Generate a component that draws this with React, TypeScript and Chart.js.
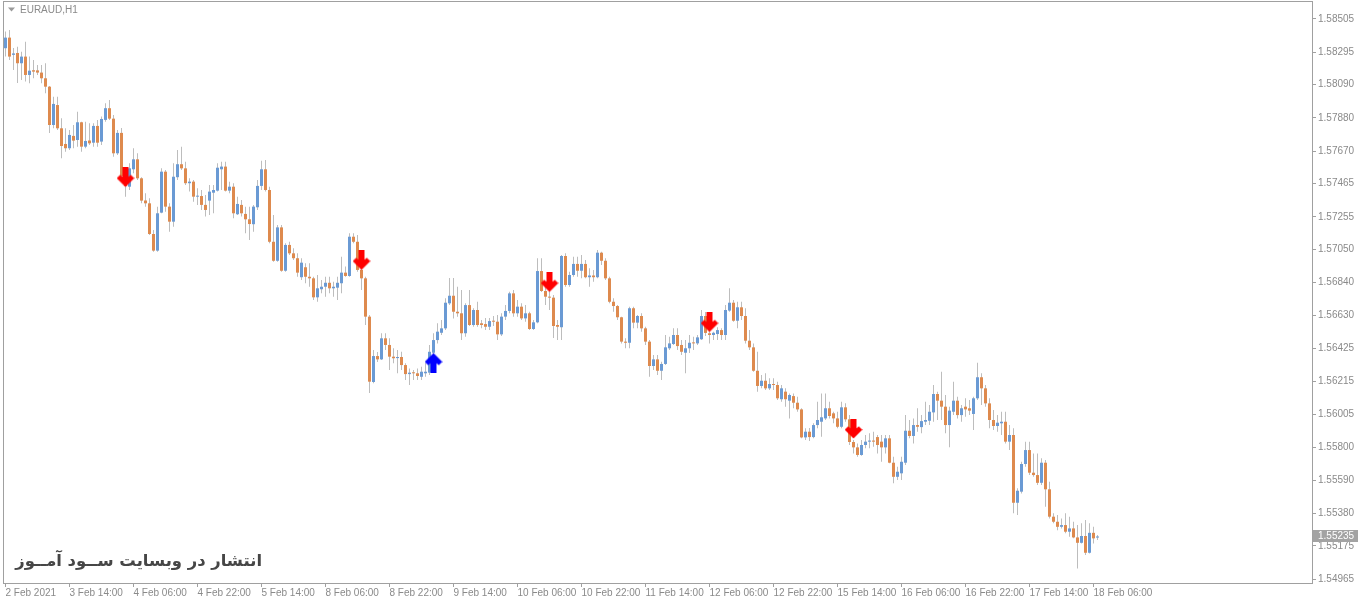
import React, { useEffect, useRef } from "react";
import { Chart, registerables } from "chart.js";

Chart.register(...registerables);

const symbolTitle = "EURAUD,H1";
const watermarkText = "انتشار در وبسایت ســود آمــوز";

const timeLabels = [
  "2 Feb 2021", "3 Feb 14:00", "4 Feb 06:00", "4 Feb 22:00", "5 Feb 14:00", "8 Feb 06:00",
  "8 Feb 22:00", "9 Feb 14:00", "10 Feb 06:00", "10 Feb 22:00", "11 Feb 14:00", "12 Feb 06:00",
  "12 Feb 22:00", "15 Feb 14:00", "16 Feb 06:00", "16 Feb 22:00", "17 Feb 14:00", "18 Feb 06:00",
];
const timeLabelBars = [0, 16, 32, 48, 64, 80, 96, 112, 128, 144, 160, 176, 192, 208, 224, 240, 256, 272];

const priceTicks = [
  1.58505, 1.58295, 1.5809, 1.5788, 1.5767, 1.57465, 1.57255, 1.5705, 1.5684,
  1.5663, 1.56425, 1.56215, 1.56005, 1.558, 1.5559, 1.5538, 1.55175, 1.54965,
];

const opens = [
  1.58320, 1.58387, 1.58278, 1.58290, 1.58225, 1.58267, 1.58151, 1.58181, 1.58180, 1.58166,
  1.58130, 1.58077, 1.57835, 1.57961, 1.57814, 1.57715, 1.57688, 1.57766, 1.57740, 1.57852,
  1.57698, 1.57737, 1.57723, 1.57829, 1.57730, 1.57867, 1.57941, 1.57875, 1.57656, 1.57785,
  1.57513, 1.57445, 1.57555, 1.57618, 1.57498, 1.57358, 1.57340, 1.57146, 1.57041, 1.57281,
  1.57540, 1.57319, 1.57224, 1.57505, 1.57587, 1.57561, 1.57467, 1.57477, 1.57382, 1.57386,
  1.57330, 1.57357, 1.57407, 1.57420, 1.57555, 1.57572, 1.57420, 1.57445, 1.57271, 1.57330,
  1.57273, 1.57239, 1.57208, 1.57315, 1.57450, 1.57555, 1.57424, 1.57097, 1.56977, 1.57188,
  1.56914, 1.57077, 1.57024, 1.56993, 1.56873, 1.56936, 1.56876, 1.56866, 1.56746, 1.56797,
  1.56813, 1.56838, 1.56803, 1.56807, 1.56835, 1.56902, 1.56881, 1.57129, 1.57097, 1.56919,
  1.56866, 1.56624, 1.56211, 1.56375, 1.56354, 1.56487, 1.56445, 1.56371, 1.56362, 1.56369,
  1.56318, 1.56261, 1.56270, 1.56266, 1.56244, 1.56266, 1.56270, 1.56396, 1.56476, 1.56522,
  1.56550, 1.56708, 1.56756, 1.56655, 1.56645, 1.56519, 1.56697, 1.56571, 1.56666, 1.56582,
  1.56577, 1.56560, 1.56596, 1.56592, 1.56512, 1.56624, 1.56660, 1.56771, 1.56645, 1.56687,
  1.56613, 1.56645, 1.56546, 1.56588, 1.56912, 1.56786, 1.56750, 1.56744, 1.56571, 1.56557,
  1.57007, 1.56824, 1.56887, 1.56957, 1.56914, 1.56957, 1.56873, 1.56884, 1.56873, 1.57028,
  1.56977, 1.56866, 1.56718, 1.56691, 1.56620, 1.56466, 1.56459, 1.56677, 1.56586, 1.56628,
  1.56550, 1.56466, 1.56312, 1.56354, 1.56282, 1.56325, 1.56424, 1.56451, 1.56508, 1.56445,
  1.56396, 1.56424, 1.56459, 1.56455, 1.56481, 1.56628, 1.56519, 1.56508, 1.56514, 1.56539,
  1.56508, 1.56662, 1.56712, 1.56598, 1.56683, 1.56628, 1.56472, 1.56430, 1.56282, 1.56186,
  1.56219, 1.56171, 1.56198, 1.56192, 1.56102, 1.56150, 1.56093, 1.56122, 1.56080, 1.56038,
  1.55861, 1.55897, 1.55863, 1.55939, 1.55960, 1.55981, 1.56045, 1.56013, 1.55981, 1.55928,
  1.56051, 1.55975, 1.55832, 1.55798, 1.55750, 1.55813, 1.55834, 1.55841, 1.55863, 1.55834,
  1.55798, 1.55855, 1.55701, 1.55612, 1.55634, 1.55701, 1.55903, 1.55870, 1.55939, 1.55926,
  1.55960, 1.55966, 1.56019, 1.56135, 1.56093, 1.56055, 1.55939, 1.56023, 1.56093, 1.56002,
  1.56055, 1.56045, 1.56009, 1.56108, 1.56241, 1.56171, 1.56076, 1.55971, 1.55933, 1.55950,
  1.55960, 1.55834, 1.55876, 1.55448, 1.55518, 1.55693, 1.55781, 1.55638, 1.55623, 1.55574,
  1.55701, 1.55533, 1.55360, 1.55328, 1.55296, 1.55307, 1.55265, 1.55286, 1.55229, 1.55195,
  1.55238, 1.55132, 1.55258, 1.55228,
];

const highs = [
  1.58425, 1.58435, 1.58322, 1.58330, 1.58298, 1.58361, 1.58267, 1.58246, 1.58214, 1.58214,
  1.58225, 1.58082, 1.58014, 1.58014, 1.57877, 1.57814, 1.57803, 1.57835, 1.57919, 1.57856,
  1.57856, 1.57846, 1.57846, 1.57867, 1.57888, 1.57972, 1.57993, 1.57898, 1.57803, 1.57816,
  1.57538, 1.57593, 1.57688, 1.57656, 1.57505, 1.57403, 1.57372, 1.57172, 1.57319, 1.57561,
  1.57551, 1.57340, 1.57593, 1.57677, 1.57698, 1.57603, 1.57498, 1.57488, 1.57435, 1.57424,
  1.57393, 1.57456, 1.57456, 1.57593, 1.57603, 1.57603, 1.57477, 1.57467, 1.57382, 1.57361,
  1.57319, 1.57319, 1.57330, 1.57488, 1.57609, 1.57614, 1.57445, 1.57266, 1.57203, 1.57203,
  1.57087, 1.57097, 1.57056, 1.57024, 1.56993, 1.56961, 1.56961, 1.56876, 1.56887, 1.56856,
  1.56876, 1.56876, 1.56845, 1.56876, 1.57003, 1.56940, 1.57151, 1.57151, 1.57140, 1.56929,
  1.56876, 1.56634, 1.56413, 1.56400, 1.56519, 1.56519, 1.56487, 1.56424, 1.56413, 1.56402,
  1.56329, 1.56297, 1.56287, 1.56297, 1.56308, 1.56329, 1.56445, 1.56519, 1.56582, 1.56603,
  1.56740, 1.56868, 1.56868, 1.56813, 1.56792, 1.56708, 1.56792, 1.56677, 1.56718, 1.56603,
  1.56615, 1.56615, 1.56628, 1.56634, 1.56645, 1.56697, 1.56782, 1.56792, 1.56729, 1.56708,
  1.56697, 1.56655, 1.56603, 1.56993, 1.56993, 1.56837, 1.56792, 1.56761, 1.56603, 1.57014,
  1.57024, 1.56908, 1.57003, 1.57003, 1.57014, 1.56982, 1.56929, 1.56919, 1.57045, 1.57034,
  1.56993, 1.56876, 1.56740, 1.56697, 1.56624, 1.56487, 1.56687, 1.56687, 1.56634, 1.56645,
  1.56560, 1.56476, 1.56382, 1.56382, 1.56339, 1.56508, 1.56497, 1.56550, 1.56550, 1.56476,
  1.56476, 1.56508, 1.56497, 1.56508, 1.56666, 1.56653, 1.56539, 1.56529, 1.56557, 1.56550,
  1.56697, 1.56803, 1.56729, 1.56718, 1.56718, 1.56677, 1.56539, 1.56455, 1.56402, 1.56255,
  1.56266, 1.56234, 1.56234, 1.56213, 1.56192, 1.56171, 1.56139, 1.56139, 1.56118, 1.56045,
  1.55918, 1.55920, 1.55950, 1.56086, 1.56139, 1.56139, 1.56086, 1.56023, 1.56023, 1.56086,
  1.56076, 1.56002, 1.55844, 1.55823, 1.55844, 1.55876, 1.55887, 1.55897, 1.55876, 1.55876,
  1.55876, 1.55876, 1.55739, 1.55676, 1.55739, 1.56002, 1.55971, 1.55981, 1.56045, 1.56002,
  1.56086, 1.56066, 1.56192, 1.56150, 1.56276, 1.56129, 1.56055, 1.56213, 1.56118, 1.56066,
  1.56108, 1.56097, 1.56118, 1.56333, 1.56266, 1.56192, 1.56108, 1.56034, 1.56002, 1.56023,
  1.56023, 1.55939, 1.55918, 1.55539, 1.55707, 1.55834, 1.55834, 1.55760, 1.55760, 1.55729,
  1.55718, 1.55581, 1.55381, 1.55370, 1.55349, 1.55381, 1.55360, 1.55328, 1.55307, 1.55318,
  1.55339, 1.55318, 1.55296, 1.55244,
];

const lows = [
  1.58267, 1.58246, 1.58183, 1.58100, 1.58119, 1.58109, 1.58099, 1.58130, 1.58151, 1.58099,
  1.58035, 1.57785, 1.57814, 1.57803, 1.57625, 1.57666, 1.57677, 1.57688, 1.57698, 1.57666,
  1.57688, 1.57709, 1.57698, 1.57698, 1.57709, 1.57856, 1.57867, 1.57635, 1.57646, 1.57488,
  1.57382, 1.57424, 1.57530, 1.57488, 1.57340, 1.57319, 1.57140, 1.57034, 1.57034, 1.57277,
  1.57287, 1.57161, 1.57192, 1.57488, 1.57551, 1.57456, 1.57414, 1.57350, 1.57330, 1.57298,
  1.57256, 1.57266, 1.57277, 1.57414, 1.57424, 1.57414, 1.57403, 1.57245, 1.57266, 1.57256,
  1.57151, 1.57108, 1.57161, 1.57298, 1.57424, 1.57414, 1.57087, 1.56971, 1.56971, 1.56908,
  1.56908, 1.57014, 1.56982, 1.56876, 1.56856, 1.56835, 1.56813, 1.56729, 1.56718, 1.56771,
  1.56750, 1.56771, 1.56750, 1.56729, 1.56771, 1.56876, 1.56876, 1.57087, 1.56908, 1.56792,
  1.56571, 1.56141, 1.56203, 1.56337, 1.56350, 1.56413, 1.56287, 1.56329, 1.56266, 1.56287,
  1.56223, 1.56192, 1.56223, 1.56223, 1.56223, 1.56244, 1.56255, 1.56329, 1.56455, 1.56508,
  1.56539, 1.56697, 1.56613, 1.56624, 1.56476, 1.56497, 1.56565, 1.56560, 1.56560, 1.56550,
  1.56539, 1.56539, 1.56565, 1.56476, 1.56502, 1.56603, 1.56645, 1.56624, 1.56624, 1.56603,
  1.56592, 1.56539, 1.56539, 1.56582, 1.56780, 1.56697, 1.56666, 1.56489, 1.56476, 1.56476,
  1.56813, 1.56813, 1.56876, 1.56876, 1.56866, 1.56866, 1.56813, 1.56845, 1.56866, 1.56950,
  1.56856, 1.56708, 1.56655, 1.56603, 1.56455, 1.56424, 1.56424, 1.56550, 1.56550, 1.56529,
  1.56445, 1.56244, 1.56287, 1.56255, 1.56223, 1.56318, 1.56413, 1.56445, 1.56413, 1.56382,
  1.56266, 1.56394, 1.56413, 1.56445, 1.56476, 1.56502, 1.56455, 1.56476, 1.56476, 1.56476,
  1.56476, 1.56655, 1.56592, 1.56550, 1.56603, 1.56455, 1.56413, 1.56276, 1.56150, 1.56171,
  1.56160, 1.56160, 1.56160, 1.56097, 1.56086, 1.56055, 1.55981, 1.56045, 1.56023, 1.55855,
  1.55844, 1.55838, 1.55855, 1.55918, 1.55865, 1.55971, 1.55981, 1.55950, 1.55918, 1.55918,
  1.55960, 1.55813, 1.55760, 1.55739, 1.55745, 1.55792, 1.55792, 1.55802, 1.55760, 1.55707,
  1.55760, 1.55697, 1.55571, 1.55592, 1.55592, 1.55686, 1.55855, 1.55823, 1.55897, 1.55887,
  1.55939, 1.55939, 1.55960, 1.55971, 1.55971, 1.55887, 1.55798, 1.56002, 1.55981, 1.55960,
  1.55992, 1.56002, 1.55908, 1.56097, 1.56066, 1.56055, 1.55918, 1.55908, 1.55897, 1.55876,
  1.55823, 1.55781, 1.55381, 1.55370, 1.55507, 1.55676, 1.55623, 1.55612, 1.55560, 1.55560,
  1.55423, 1.55349, 1.55318, 1.55275, 1.55286, 1.55255, 1.55233, 1.55223, 1.55033, 1.55191,
  1.55118, 1.55128, 1.55191, 1.55212,
];

const closes = [
  1.58387, 1.58267, 1.58287, 1.58225, 1.58267, 1.58151, 1.58178, 1.58172, 1.58166, 1.58130,
  1.58077, 1.57835, 1.57968, 1.57814, 1.57702, 1.57688, 1.57772, 1.57736, 1.57852, 1.57698,
  1.57734, 1.57719, 1.57829, 1.57723, 1.57873, 1.57941, 1.57875, 1.57656, 1.57785, 1.57513,
  1.57450, 1.57561, 1.57618, 1.57498, 1.57357, 1.57340, 1.57146, 1.57041, 1.57277, 1.57540,
  1.57319, 1.57224, 1.57508, 1.57587, 1.57561, 1.57467, 1.57477, 1.57382, 1.57386, 1.57330,
  1.57298, 1.57414, 1.57424, 1.57565, 1.57572, 1.57420, 1.57445, 1.57277, 1.57336, 1.57277,
  1.57239, 1.57209, 1.57319, 1.57450, 1.57555, 1.57424, 1.57097, 1.56977, 1.57188, 1.56914,
  1.57077, 1.57024, 1.56993, 1.56902, 1.56965, 1.56876, 1.56866, 1.56746, 1.56803, 1.56813,
  1.56838, 1.56803, 1.56813, 1.56838, 1.56902, 1.56881, 1.57129, 1.57097, 1.56919, 1.56866,
  1.56624, 1.56213, 1.56375, 1.56354, 1.56487, 1.56445, 1.56371, 1.56361, 1.56369, 1.56318,
  1.56261, 1.56270, 1.56266, 1.56249, 1.56276, 1.56276, 1.56402, 1.56476, 1.56529, 1.56550,
  1.56712, 1.56756, 1.56655, 1.56645, 1.56519, 1.56697, 1.56571, 1.56666, 1.56571, 1.56571,
  1.56560, 1.56596, 1.56592, 1.56512, 1.56624, 1.56660, 1.56771, 1.56645, 1.56687, 1.56613,
  1.56645, 1.56546, 1.56588, 1.56912, 1.56786, 1.56750, 1.56744, 1.56565, 1.56560, 1.57007,
  1.56824, 1.56887, 1.56957, 1.56914, 1.56957, 1.56873, 1.56884, 1.56873, 1.57028, 1.56977,
  1.56866, 1.56718, 1.56691, 1.56620, 1.56466, 1.56459, 1.56677, 1.56586, 1.56628, 1.56550,
  1.56466, 1.56312, 1.56354, 1.56282, 1.56325, 1.56430, 1.56455, 1.56508, 1.56438, 1.56402,
  1.56424, 1.56459, 1.56455, 1.56493, 1.56628, 1.56521, 1.56508, 1.56522, 1.56539, 1.56508,
  1.56666, 1.56712, 1.56598, 1.56683, 1.56628, 1.56472, 1.56430, 1.56282, 1.56186, 1.56219,
  1.56171, 1.56198, 1.56192, 1.56108, 1.56171, 1.56102, 1.56129, 1.56080, 1.56038, 1.55861,
  1.55897, 1.55863, 1.55939, 1.55971, 1.55988, 1.56045, 1.55996, 1.55981, 1.55928, 1.56051,
  1.55975, 1.55832, 1.55798, 1.55750, 1.55813, 1.55834, 1.55841, 1.55834, 1.55813, 1.55798,
  1.55855, 1.55701, 1.55612, 1.55644, 1.55707, 1.55903, 1.55870, 1.55939, 1.55928, 1.55964,
  1.55971, 1.56023, 1.56135, 1.56093, 1.56055, 1.55939, 1.56030, 1.56093, 1.56002, 1.56045,
  1.56038, 1.56030, 1.56108, 1.56241, 1.56171, 1.56076, 1.55971, 1.55933, 1.55954, 1.55960,
  1.55834, 1.55876, 1.55448, 1.55524, 1.55693, 1.55781, 1.55638, 1.55623, 1.55574, 1.55701,
  1.55533, 1.55360, 1.55328, 1.55296, 1.55307, 1.55265, 1.55286, 1.55229, 1.55195, 1.55238,
  1.55132, 1.55258, 1.55223, 1.55235,
];

const sellArrowBars = [30, 89, 136, 176, 212];
const sellArrowPrices = [1.575, 1.56976, 1.56837, 1.56584, 1.55911];
const buyArrowBars = [107];
const buyArrowPrices = [1.56337];
const currentPrice = 1.55235;

const BULL = "#6A9AD4";
const BEAR = "#DE8A4E";
const WICK = "#BDBDBD";
const AXIS = "#A0A0A0";
const TEXT = "#8A8A8A";
const FONT = "'Liberation Sans', Arial, sans-serif";

function makeArrow(color: string, up: boolean): HTMLCanvasElement {
  const c = document.createElement("canvas");
  c.width = 18;
  c.height = 21;
  const g = c.getContext("2d") as CanvasRenderingContext2D;
  if (up) {
    g.translate(0, 21);
    g.scale(1, -1);
  }
  g.fillStyle = color;
  g.strokeStyle = color;
  g.fillRect(6, 0, 6, 15);
  g.lineWidth = 5;
  g.lineJoin = "miter";
  g.lineCap = "butt";
  g.beginPath();
  g.moveTo(2, 9);
  g.lineTo(9, 16);
  g.lineTo(16, 9);
  g.stroke();
  return c;
}

function zeroPadding(s: any) {
  s.paddingLeft = 0;
  s.paddingRight = 0;
  s.paddingTop = 0;
  s.paddingBottom = 0;
}

export default function App() {
  const ref = useRef<HTMLCanvasElement | null>(null);

  useEffect(() => {
    const canvas = ref.current;
    if (!canvas) return;

    const idx = closes.map((_, i) => i);
    const bodyColors = idx.map((i) => (closes[i] >= opens[i] ? BULL : BEAR));

    const overlay = {
      id: "mt4Overlay",
      beforeDraw(chart: any) {
        const ctx = chart.ctx;
        ctx.save();
        ctx.fillStyle = "#ffffff";
        ctx.fillRect(0, 0, chart.width, chart.height);
        ctx.restore();
      },
      afterDraw(chart: any) {
        const ctx = chart.ctx as CanvasRenderingContext2D;
        const a = chart.chartArea;
        const ys = chart.scales.y;
        ctx.save();
        ctx.strokeStyle = AXIS;
        ctx.lineWidth = 1;
        ctx.strokeRect(Math.round(a.left) - 0.5, Math.round(a.top) - 0.5, Math.round(a.right - a.left) + 1, Math.round(a.bottom - a.top) + 1);

        ctx.fillStyle = "#9A9A9A";
        ctx.beginPath();
        ctx.moveTo(8, 7.5);
        ctx.lineTo(15, 7.5);
        ctx.lineTo(11.5, 11.5);
        ctx.closePath();
        ctx.fill();
        ctx.fillStyle = TEXT;
        ctx.font = `10px ${FONT}`;
        ctx.textBaseline = "middle";
        ctx.textAlign = "left";
        ctx.fillText(symbolTitle, 20, 10);

        const py = Math.round(ys.getPixelForValue(currentPrice));
        ctx.fillStyle = "#A3A3A3";
        ctx.fillRect(Math.round(a.right) + 1, py - 6, 45, 12);
        ctx.fillStyle = "#ffffff";
        ctx.font = `10px ${FONT}`;
        ctx.fillText(currentPrice.toFixed(5), Math.round(a.right) + 6, py + 0.5);

        const targetW = 247;
        ctx.font = `bold 20px 'DejaVu Sans', sans-serif`;
        const w = ctx.measureText(watermarkText).width;
        const size = Math.max(10, Math.min(26, (20 * targetW) / w));
        ctx.font = `bold ${size.toFixed(1)}px 'DejaVu Sans', sans-serif`;
        ctx.fillStyle = "#464646";
        ctx.textAlign = "right";
        ctx.textBaseline = "middle";
        ctx.fillText(watermarkText, 262, 562);
        ctx.restore();
      },
    };

    const chart = new Chart(canvas, {
      type: "bar",
      data: {
        datasets: [
          {
            type: "scatter",
            label: "sell",
            data: sellArrowBars.map((b, k) => ({ x: b, y: sellArrowPrices[k] })),
            pointStyle: makeArrow("#FF0000", false) as any,
            pointRadius: 9,
            showLine: false,
            clip: false,
            order: -2,
          } as any,
          {
            type: "scatter",
            label: "buy",
            data: buyArrowBars.map((b, k) => ({ x: b, y: buyArrowPrices[k] })),
            pointStyle: makeArrow("#0000FF", true) as any,
            pointRadius: 9,
            showLine: false,
            clip: false,
            order: -2,
          } as any,
          {
            type: "bar",
            label: "body",
            data: idx.map((i) => ({ x: i, y: [opens[i], closes[i]] })) as any,
            backgroundColor: bodyColors,
            barThickness: 3,
            grouped: false,
            minBarLength: 1,
            inflateAmount: 0,
            borderWidth: 0,
            order: 0,
          } as any,
          {
            type: "bar",
            label: "wick",
            data: idx.map((i) => ({ x: i, y: [lows[i], highs[i]] })) as any,
            backgroundColor: WICK,
            barThickness: 1,
            grouped: false,
            minBarLength: 1,
            inflateAmount: 0,
            borderWidth: 0,
            order: 1,
          } as any,
        ],
      },
      options: {
        responsive: false,
        animation: false,
        devicePixelRatio: 1,
        events: [],
        layout: { autoPadding: false, padding: { left: 4, top: 2, right: 0, bottom: 0 } },
        plugins: { legend: { display: false }, tooltip: { enabled: false } },
        scales: {
          x: {
            type: "linear",
            position: "bottom",
            offset: false,
            min: -0.375,
            max: 326.625,
            afterBuildTicks: (s: any) => {
              s.ticks = timeLabelBars.map((v) => ({ value: v }));
            },
            afterFit: (s: any) => {
              s.height = 16;
              zeroPadding(s);
            },
            border: { display: false },
            grid: { drawOnChartArea: false, drawTicks: true, tickLength: 4, color: AXIS, offset: false },
            ticks: {
              autoSkip: false,
              maxRotation: 0,
              minRotation: 0,
              align: "start",
              padding: 0,
              color: TEXT,
              font: { family: FONT, size: 10 },
              callback: (_v: any, i: number) => timeLabels[i] ?? "",
            },
          },
          y: {
            type: "linear",
            position: "right",
            min: 1.54941,
            max: 1.58612,
            afterBuildTicks: (s: any) => {
              s.ticks = priceTicks.map((v) => ({ value: v }));
            },
            afterFit: (s: any) => {
              s.width = 48;
              zeroPadding(s);
            },
            border: { display: false },
            grid: { drawOnChartArea: false, drawTicks: true, tickLength: 4, color: AXIS },
            ticks: {
              autoSkip: false,
              padding: 2,
              color: TEXT,
              font: { family: FONT, size: 10 },
              callback: (v: any) => Number(v).toFixed(5),
            },
          },
        },
      } as any,
      plugins: [overlay],
    });

    return () => chart.destroy();
  }, []);

  return (
    <div style={{ position: "fixed", left: 0, top: 0, width: 1360, height: 599, background: "#ffffff" }}>
      <canvas ref={ref} width={1360} height={599} style={{ display: "block", width: 1360, height: 599 }} />
    </div>
  );
}
